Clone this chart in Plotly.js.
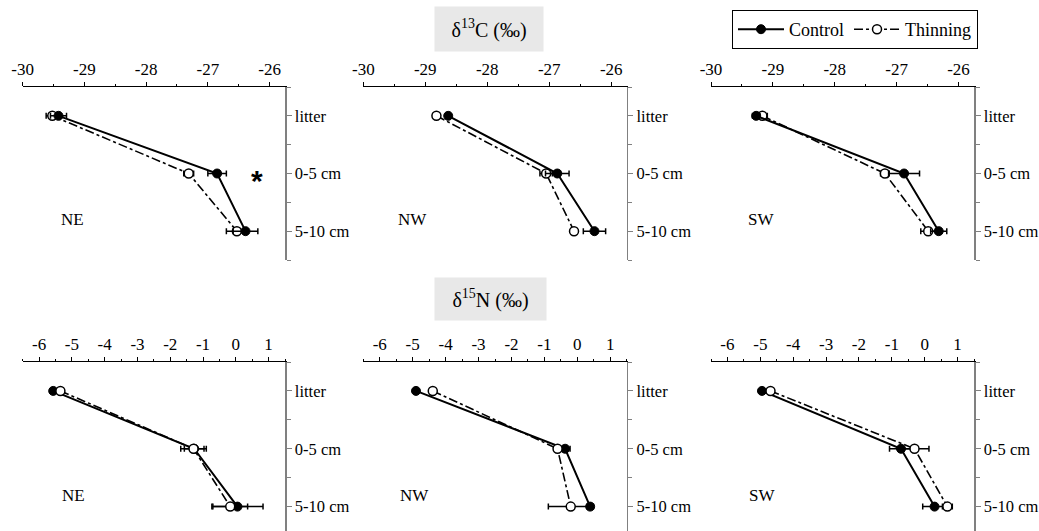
<!DOCTYPE html>
<html><head><meta charset="utf-8">
<script src="https://cdn.plot.ly/plotly-3.0.1.min.js"></script>
<style>html,body{margin:0;padding:0;background:#fff}#chart{width:1039px;height:531px}</style>
</head><body><div id="chart"></div>
<script>
const depths = ['litter', '0-5 cm', '5-10 cm'];
const sites = ['NE', 'NW', 'SW'];
const cTicks = [-30, -29, -28, -27, -26];
const nTicks = [-6, -5, -4, -3, -2, -1, 0, 1];

// δ13C
const c13ControlNE = [-29.42, -26.85, -26.39];
const c13ControlNEErr = [0.13, 0.15, 0.20];
const c13ThinNE = [-29.52, -27.31, -26.53];
const c13ThinNEErr = [0.10, 0.08, 0.17];
const c13ControlNW = [-28.63, -26.87, -26.27];
const c13ControlNWErr = [0.04, 0.19, 0.18];
const c13ThinNW = [-28.82, -27.05, -26.60];
const c13ThinNWErr = [0.05, 0.10, 0.03];
const c13ControlSW = [-29.27, -26.88, -26.32];
const c13ControlSWErr = [0.06, 0.25, 0.13];
const c13ThinSW = [-29.17, -27.19, -26.49];
const c13ThinSWErr = [0.08, 0.07, 0.12];
// δ15N
const n15ControlNE = [-5.57, -1.27, 0.05];
const n15ControlNEErr = [0.05, 0.30, 0.78];
const n15ThinNE = [-5.35, -1.29, -0.17];
const n15ThinNEErr = [0.05, 0.39, 0.53];
const n15ControlNW = [-4.90, -0.37, 0.39];
const n15ControlNWErr = [0.03, 0.15, 0.10];
const n15ThinNW = [-4.39, -0.60, -0.20];
const n15ThinNWErr = [0.04, 0.08, 0.68];
const n15ControlSW = [-4.95, -0.72, 0.30];
const n15ControlSWErr = [0.05, 0.35, 0.36];
const n15ThinSW = [-4.69, -0.31, 0.69];
const n15ThinSWErr = [0.05, 0.44, 0.15];

const FONT = 'Liberation Serif, Times New Roman, serif';
const yIdx = depths.map((d, i) => i);

function ctrl(x, err, n, leg) {
  return {x: x, y: yIdx, xaxis: 'x' + (n === 1 ? '' : n), yaxis: 'y' + (n === 1 ? '' : n),
    type: 'scatter', mode: 'lines+markers', name: 'Control', showlegend: leg,
    line: {color: '#000', width: 2},
    marker: {symbol: 'circle', size: 9, color: '#000', line: {color: '#000', width: 1}},
    error_x: {type: 'data', array: err, visible: true, color: '#000', thickness: 1.5, width: 3}};
}
function thin(x, err, n, leg) {
  return {x: x, y: yIdx, xaxis: 'x' + (n === 1 ? '' : n), yaxis: 'y' + (n === 1 ? '' : n),
    type: 'scatter', mode: 'lines+markers', name: 'Thinning', showlegend: leg,
    line: {color: '#000', width: 1.6, dash: 'dashdot'},
    marker: {symbol: 'circle', size: 9, color: '#fff', line: {color: '#000', width: 1.5}},
    error_x: {type: 'data', array: err, visible: true, color: '#000', thickness: 1.5, width: 3}};
}

const data = [
  thin(c13ThinNE, c13ThinNEErr, 1, false), ctrl(c13ControlNE, c13ControlNEErr, 1, false),
  thin(c13ThinNW, c13ThinNWErr, 2, false), ctrl(c13ControlNW, c13ControlNWErr, 2, false),
  thin(c13ThinSW, c13ThinSWErr, 3, false), ctrl(c13ControlSW, c13ControlSWErr, 3, false),
  ctrl(n15ControlNE, n15ControlNEErr, 4, true), thin(n15ThinNE, n15ThinNEErr, 4, true),
  ctrl(n15ControlNW, n15ControlNWErr, 5, false), thin(n15ThinNW, n15ThinNWErr, 5, false),
  ctrl(n15ControlSW, n15ControlSWErr, 6, false), thin(n15ThinSW, n15ThinSWErr, 6, false)
];

const W = 1039, H = 531;
const colPx = [[22.7, 285], [363.3, 626.7], [711, 974]];
const rowPx = [[87, 260], [362, 531]];

const layout = {
  width: W, height: H, margin: {l: 0, r: 0, t: 0, b: 0},
  paper_bgcolor: '#fff', plot_bgcolor: '#fff',
  font: {family: FONT, size: 17, color: '#000'},
  showlegend: true,
  legend: {orientation: 'h', x: 732 / W, y: 1 - 10 / H, xanchor: 'left', yanchor: 'top',
    bordercolor: '#000', borderwidth: 1, bgcolor: '#fff',
    font: {family: FONT, size: 18, color: '#000'}, traceorder: 'normal', itemwidth: 46,
    tracegroupgap: 0},
  annotations: []
};

for (let r = 0; r < 2; r++) {
  for (let c = 0; c < 3; c++) {
    const n = r * 3 + c + 1;
    const sfx = n === 1 ? '' : String(n);
    const ticks = r === 0 ? cTicks : nTicks;
    const rng = r === 0 ? [-30, -25.75] : [-6.5, 1.5];
    const yr = r === 0 ? [2.5, -0.5] : [2.5 - (535.5 - 531) / 57.5, -0.5];
    layout['xaxis' + sfx] = {
      domain: [colPx[c][0] / W, colPx[c][1] / W], anchor: 'y' + sfx, side: 'top',
      range: rng, autorange: false, showgrid: false, zeroline: false,
      showline: true, linecolor: '#000', linewidth: 1,
      tickmode: 'array', tickvals: ticks, ticktext: ticks.map(v => String(v)),
      ticks: 'outside', ticklen: 4, tickwidth: 1, tickcolor: '#000',
      minor: {dtick: 0.5, tick0: 0, ticks: 'outside', ticklen: 2, tickcolor: '#000', tickwidth: 1},
      tickfont: {family: FONT, size: 17, color: '#000'}, fixedrange: true
    };
    layout['yaxis' + sfx] = {
      domain: [1 - rowPx[r][1] / H, 1 - rowPx[r][0] / H], anchor: 'x' + sfx, side: 'right',
      range: yr, autorange: false, showgrid: false, zeroline: false,
      showline: true, linecolor: '#808080', linewidth: 1.5,
      tickmode: 'array', tickvals: yIdx, ticktext: depths,
      ticks: 'outside', ticklen: 5, tickwidth: 1, tickcolor: '#808080',
      minor: {dtick: 0.5, tick0: 0, ticks: 'outside', ticklen: 4, tickcolor: '#808080', tickwidth: 1},
      tickfont: {family: FONT, size: 16.5, color: '#000'}, fixedrange: true
    };
    layout.annotations.push({
      xref: 'x' + sfx, yref: 'y' + sfx,
      x: r === 0 ? -29.2 : -4.95, y: 1.8, text: sites[c], showarrow: false,
      font: {family: FONT, size: 17, color: '#000'}
    });
  }
}

layout.annotations.push({xref: 'x', yref: 'y', x: -26.2, y: 1.12, text: '*', showarrow: false,
  font: {family: 'Liberation Sans, Arial, sans-serif', size: 30, color: '#000', weight: 'bold'}});
layout.annotations.push({xref: 'paper', yref: 'paper', x: 489 / W, y: 1 - 29 / H,
  xanchor: 'center', yanchor: 'middle', text: 'δ<sup>13</sup>C (‰)', showarrow: false,
  width: 106, height: 42, bgcolor: '#e8e8e8',
  font: {family: FONT, size: 20, color: '#000'}});
layout.annotations.push({xref: 'paper', yref: 'paper', x: 490.5 / W, y: 1 - 299 / H,
  xanchor: 'center', yanchor: 'middle', text: 'δ<sup>15</sup>N (‰)', showarrow: false,
  width: 109, height: 40, bgcolor: '#e8e8e8',
  font: {family: FONT, size: 20, color: '#000'}});

Plotly.newPlot('chart', data, layout, {displayModeBar: false, staticPlot: true});
</script></body></html>
